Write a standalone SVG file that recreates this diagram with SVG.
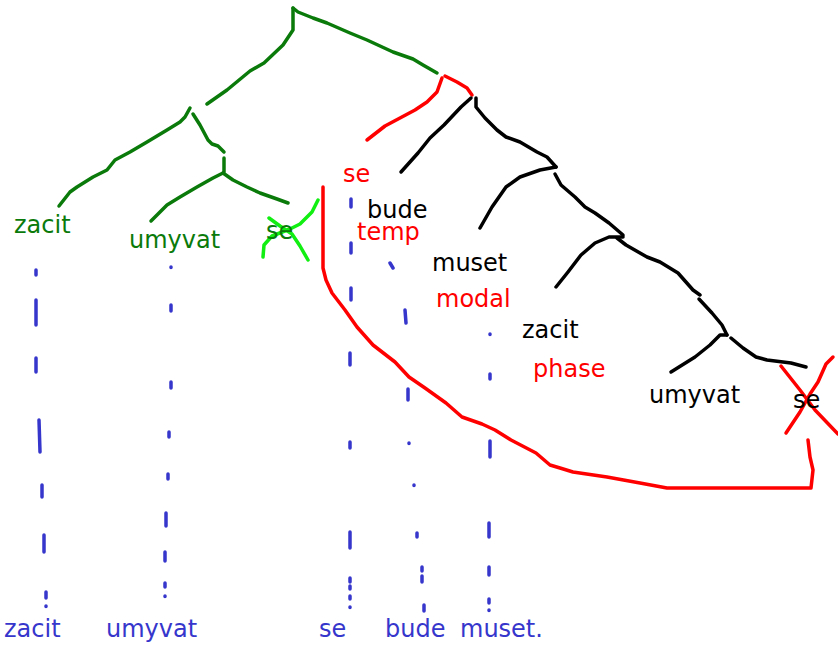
<svg xmlns="http://www.w3.org/2000/svg" width="838" height="646" viewBox="0 0 838 646">
<style>
.ln{fill:none;stroke-width:3.5;stroke-linecap:round;stroke-linejoin:round}
.g{stroke:#0a7a0a}
.lg{stroke:#11ee11}
.r{stroke:#ff0000}
.k{stroke:#000000}
.b{fill:none;stroke:#3636cc;stroke-width:3.5;stroke-linecap:round}
text{font-family:"DejaVu Sans","Noto Sans",sans-serif;font-size:24px}
.tg{fill:#0a7a0a}.tr{fill:#ff0000}.tk{fill:#000000}.tb{fill:#3636cc}
</style>
<rect width="838" height="646" fill="#ffffff"/>
<g id="connectors">
<path class="ln g" d="M293,8 L293,30 L283,45 L264,63 L250,71 L227,90 L207,104"/>
<path class="ln g" d="M293,8 L298,12 L313,18 L327,23 L350,33 L367,40 L393,52 L413,59 L423,65 L437,73"/>
<path class="ln g" d="M190,108 L185,117 L180,122 L167,130 L147,142 L130,152 L115,160 L107,170 L93,177 L77,187 L70,192 L59,206"/>
<path class="ln g" d="M193,114 L200,125 L208,140 L212,144 L218,146 L224,152"/>
<path class="ln g" d="M224,158 L224,172"/>
<path class="ln g" d="M223,173 L213,178 L197,187 L180,197 L167,205 L160,212 L151,221"/>
<path class="ln g" d="M223,173 L233,180 L247,187 L260,193 L277,199 L288,203"/>
<path class="ln lg" d="M318,200 L312,212 L300,224 L290,229 L272,236 L264,245 L263,257"/>
<path class="ln lg" d="M269,218 L280,226 L292,234 L300,246 L308,260"/>
<path class="ln r" d="M442,78 L437,92 L427,102 L415,110 L400,118 L385,126 L367,140"/>
<path class="ln r" d="M445,76 L457,82 L467,88 L472,95"/>
<path class="ln r" d="M323,187 L323,268 L326,280 L332,293 L345,310 L357,327 L373,345 L395,362 L409,377 L425,388 L446,403 L462,417 L482,424 L495,430 L511,440 L536,453 L550,465 L560,468 L573,472 L607,477 L640,483 L667,488 L811,488 L813,470 L810,457 L808,440"/>
<path class="ln r" d="M781,366 L800,390 L815,410 L838,434"/>
<path class="ln r" d="M833,357 L826,364 L818,382 L810,394 L800,412 L786,433"/>
<path class="ln k" d="M471,98 L461,107 L444,125 L430,138 L418,153 L401,172"/>
<path class="ln k" d="M476,98 L476,107 L485,118 L497,130 L506,137 L520,142 L537,152 L547,157 L556,167"/>
<path class="ln k" d="M556,167 L540,170 L520,177 L506,187 L492,207 L480,228"/>
<path class="ln k" d="M555,174 L561,185 L575,197 L585,207 L595,213 L609,223 L623,235"/>
<path class="ln k" d="M623,237 L609,237 L595,243 L581,255 L568,272 L556,287"/>
<path class="ln k" d="M617,238 L626,245 L647,257 L660,262 L678,273 L693,290 L700,295"/>
<path class="ln k" d="M699,299 L712,313 L722,325 L727,335"/>
<path class="ln k" d="M727,335 L720,335 L710,345 L695,357 L671,372"/>
<path class="ln k" d="M731,338 L743,348 L756,357 L767,360 L791,363 L806,367"/>
<g id="dashes">
<path class="b" d="M36,270 L36,275 M36,300 L36,325 M36,358 L36,372 M39,420 L40,452 M42,485 L42,497 M44,535 L44,552 M46,592 L46,598 M46,606 L46,606.5"/>
<path class="b" d="M171,267 L171,267.5 M171,305 L171,311 M171,382 L171,388 M169,432 L169,437 M168,474 L168,479 M166,513 L166,526 M165,552 L165,561 M165,583 L165,587 M165,596 L165,596.5"/>
<path class="b" d="M351,199 L351,207 M351,243 L351,253 M351,288 L351,300 M350,353 L350,365 M350,442 L350,448 M350,532 L350,548 M350,578 L350,582 M350,586 L350,589 M350,596 L350,599 M350,607 L350,607.5"/>
<path class="b" d="M390,263 L393,268 M405,310 L406,323 M408,389 L408,400 M409,443 L409,443.5 M414,485 L414,485.5 M417,533 L417,537 M422,567 L422,571 M422,576 L422,582 M424,605 L424,611"/>
<path class="b" d="M490,334 L490,334.5 M490,374 L490,379 M490,441 L490,457 M489,523 L489,537 M489,567 L489,575 M489,599 L489,603 M489,610 L489,610.5"/>
</g>
</g>
<g id="n-zacit-g"><text class="tg" x="14" y="233">zacit</text></g>
<g id="n-umyvat-g"><text class="tg" x="129" y="248">umyvat</text></g>
<g id="n-se-g"><text class="tg" x="266" y="239">se</text></g>
<g id="n-se-r"><text class="tr" x="343" y="182">se</text></g>
<g id="n-bude"><text class="tk" x="367" y="218">bude</text></g>
<g id="n-temp"><text class="tr" x="357" y="240">temp</text></g>
<g id="n-muset"><text class="tk" x="432" y="271">muset</text></g>
<g id="n-modal"><text class="tr" x="436" y="307">modal</text></g>
<g id="n-zacit-k"><text class="tk" x="522" y="338">zacit</text></g>
<g id="n-phase"><text class="tr" x="533" y="377">phase</text></g>
<g id="n-umyvat-k"><text class="tk" x="649" y="403">umyvat</text></g>
<g id="n-se-k"><text class="tk" x="793" y="408">se</text></g>
<g id="n-zacit-b"><text class="tb" x="4" y="637">zacit</text></g>
<g id="n-umyvat-b"><text class="tb" x="106" y="637">umyvat</text></g>
<g id="n-se-b"><text class="tb" x="319" y="637">se</text></g>
<g id="n-bude-b"><text class="tb" x="385" y="637">bude</text></g>
<g id="n-muset-b"><text class="tb" x="460" y="637">muset.</text></g>
</svg>
